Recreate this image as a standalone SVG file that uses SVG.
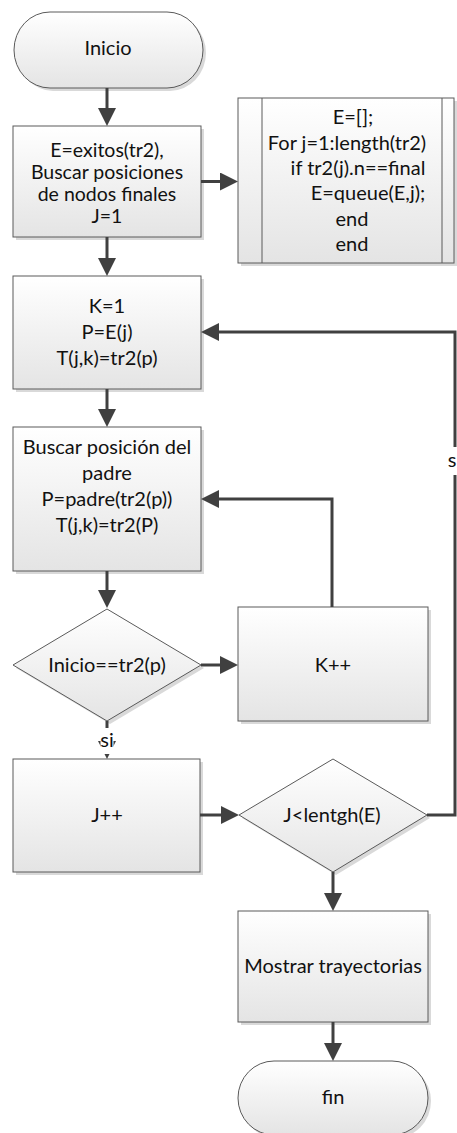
<svg xmlns="http://www.w3.org/2000/svg" width="457" height="1133" viewBox="0 0 457 1133">
<style>
.shape{fill:url(#g);stroke:#5a5a5a;stroke-width:1}
.sh{fill:#d9d9d9}
.t{font-family:Lato,"Liberation Sans",sans-serif;font-size:20px;fill:#111;text-anchor:middle}
.t2{font-size:19.5px}
.c{fill:none;stroke:#404040;stroke-width:3;marker-end:url(#a)}
.lb{fill:#fff}
</style>
<defs>
<linearGradient id="g" x1="0" y1="0" x2="0" y2="1">
<stop offset="0" stop-color="#ffffff"/>
<stop offset="1" stop-color="#e4e4e4"/>
</linearGradient>
<marker id="a" markerUnits="userSpaceOnUse" viewBox="0 0 18 18" markerWidth="18" markerHeight="18" refX="0" refY="9" orient="auto">
<path d="M0,0 L18,9 L0,18 Z" fill="#404040"/>
</marker>
</defs>
<rect width="457" height="1133" fill="#fff"/>

<g id="inicio">
<path class="sh" d="M53,15 H170 A36,38 0 0 1 170,91 H53 A36,38 0 0 1 53,15 Z"/>
<path class="shape" d="M50,12 H167 A36,38 0 0 1 167,88 H50 A36,38 0 0 1 50,12 Z"/>
<text class="t" x="108" y="55">Inicio</text>
</g>

<g id="box1">
<rect class="sh" x="16" y="129" width="188" height="111"/>
<rect class="shape" x="13" y="126" width="188" height="111"/>
<text class="t t2" x="107" y="157">E=exitos(tr2),</text>
<text class="t t2" x="107" y="179">Buscar posiciones</text>
<text class="t t2" x="107" y="201">de nodos finales</text>
<text class="t t2" x="107" y="223">J=1</text>
</g>

<g id="subproc">
<rect class="sh" x="241" y="101" width="216" height="165"/>
<rect class="shape" x="238" y="98" width="216" height="165"/>
<line x1="262" y1="98" x2="262" y2="263" stroke="#5a5a5a" stroke-width="1"/>
<line x1="442" y1="98" x2="442" y2="263" stroke="#5a5a5a" stroke-width="1"/>
<text class="t" x="353" y="124">E=[];</text>
<text class="t" x="347" y="149.5">For j=1:length(tr2)</text>
<text class="t" x="358" y="175">if tr2(j).n==final</text>
<text class="t" x="368" y="200">E=queue(E,j);</text>
<text class="t" x="352" y="225.5">end</text>
<text class="t" x="352" y="251">end</text>
</g>

<g id="box2">
<rect class="sh" x="16" y="279" width="188" height="113"/>
<rect class="shape" x="13" y="276" width="188" height="113"/>
<text class="t" x="107" y="313">K=1</text>
<text class="t" x="107" y="339">P=E(j)</text>
<text class="t" x="107" y="365">T(j,k)=tr2(p)</text>
</g>

<g id="box3">
<rect class="sh" x="16" y="430" width="188" height="144"/>
<rect class="shape" x="13" y="427" width="188" height="144"/>
<text class="t" x="107" y="454">Buscar posición del</text>
<text class="t" x="107" y="480">padre</text>
<text class="t" x="107" y="506">P=padre(tr2(p))</text>
<text class="t" x="107" y="532">T(j,k)=tr2(P)</text>
</g>

<g id="dec1">
<polygon class="sh" points="110,612 204,668 110,724 16,668"/>
<polygon class="shape" points="107,609 201,665 107,721 13,665"/>
<text class="t" x="107" y="672">Inicio==tr2(p)</text>
</g>

<g id="kpp">
<rect class="sh" x="241" y="610" width="190" height="114"/>
<rect class="shape" x="238" y="607" width="190" height="114"/>
<text class="t" x="333" y="672">K++</text>
</g>

<g id="jpp">
<rect class="sh" x="16" y="762" width="187" height="113"/>
<rect class="shape" x="13" y="759" width="187" height="113"/>
<text class="t" x="107" y="822">J++</text>
</g>

<g id="dec2">
<polygon class="sh" points="336,762 430,818 336,875 242,818"/>
<polygon class="shape" points="333,759 427,815 333,872 239,815"/>
<text class="t" x="332" y="822">J&lt;lentgh(E)</text>
</g>

<g id="mostrar">
<rect class="sh" x="241" y="914" width="190" height="111"/>
<rect class="shape" x="238" y="911" width="190" height="111"/>
<text class="t" x="333" y="973">Mostrar trayectorias</text>
</g>

<g id="fin">
<path class="sh" d="M277,1064 H395 A36,37 0 0 1 395,1138 H277 A36,37 0 0 1 277,1064 Z"/>
<path class="shape" d="M274,1061 H392 A36,37 0 0 1 392,1135 H274 A36,37 0 0 1 274,1061 Z"/>
<text class="t" x="333" y="1104">fin</text>
</g>

<g id="connectors">
<path class="c" d="M107,88 V108"/>
<path class="c" d="M201,181.5 H220"/>
<path class="c" d="M107,237 V258"/>
<path class="c" d="M107,389 V409"/>
<path class="c" d="M107,571 V590"/>
<path class="c" d="M201,665 H220"/>
<path class="c" d="M332,607 V499 H219"/>
<path class="c" d="M107,721 V741"/>
<path class="c" d="M200,815 H221"/>
<path class="c" d="M427,815 H455 V332 H219"/>
<path class="c" d="M333,872 V893"/>
<path class="c" d="M333,1022 V1043"/>
<rect class="lb" x="100.5" y="728" width="13" height="26"/>
<text class="t" x="107" y="747">si</text>
<rect class="lb" x="446" y="447" width="11" height="28"/>
<text class="t" x="452" y="467">s</text>
</g>
</svg>
